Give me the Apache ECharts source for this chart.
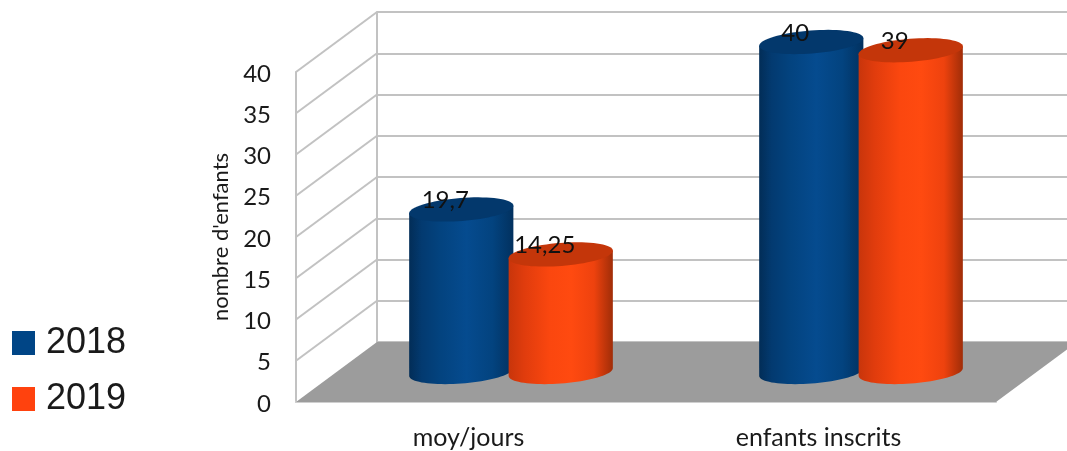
<!DOCTYPE html>
<html>
<head>
<meta charset="utf-8">
<style>html,body{margin:0;padding:0;background:#fff}#c{width:1067px;height:451px}</style>
<script src="https://cdn.jsdelivr.net/npm/echarts@6/dist/echarts.min.js"></script>
</head>
<body>
<div id="c"></div>
<script>
const categories = ["moy/jours", "enfants inscrits"];
const values2018 = [19.7, 40];
const values2019 = [14.25, 39];
const wallTicks = [5, 10, 15, 20, 25, 30, 35, 40];

const DEPTH_X = 81, DEPTH_Y = -60;
const FONT = "Lato";
const LINE = "#c2c2c2";

function ell(cx, cy, rx, ry, a, t) {
  return [
    cx + rx * Math.cos(t) * Math.cos(a) - ry * Math.sin(t) * Math.sin(a),
    cy + rx * Math.cos(t) * Math.sin(a) + ry * Math.sin(t) * Math.cos(a)
  ];
}
function cylinder(offsetRatio, stops, topColor) {
  return function (params, api) {
    const cat = api.value(0), v = api.value(1);
    const band = api.size([1, 0])[0];
    const top = api.coord([cat, v]), base = api.coord([cat, 0]);
    const cx = top[0] + band * offsetRatio;
    const rx = band * 0.1493, ry = 11.5, a = -4.4 * Math.PI / 180;
    const t0 = Math.atan2(-ry * Math.sin(a), rx * Math.cos(a));
    const pts = [];
    for (let i = 0; i <= 40; i++) pts.push(ell(cx, base[1], rx, ry, a, t0 + Math.PI * i / 40));
    pts.push(ell(cx, top[1], rx, ry, a, t0 + Math.PI));
    pts.push(ell(cx, top[1], rx, ry, a, t0));
    const cap = [];
    for (let i = 0; i < 72; i++) cap.push(ell(cx, top[1], rx, ry, a, i * Math.PI / 36));
    return {
      type: "group",
      children: [
        { type: "polygon", shape: { points: pts },
          style: { fill: { type: "linear", x: 0, y: 0, x2: 1, y2: 0, colorStops: stops } } },
        { type: "polygon", shape: { points: cap }, style: { fill: topColor } },
        { type: "text", style: {
            x: cx - 16, y: top[1] - 9,
            text: String(v).replace(".", ","),
            font: "24px " + FONT, fill: "#111", align: "center", verticalAlign: "middle" } }
      ]
    };
  };
}
const blueStops = [
  { offset: 0, color: "#022d57" }, { offset: 0.12, color: "#033a70" },
  { offset: 0.3, color: "#03437f" }, { offset: 0.55, color: "#054b8f" },
  { offset: 0.8, color: "#03437f" }, { offset: 1, color: "#02315f" }
];
const orangeStops = [
  { offset: 0, color: "#c8350b" }, { offset: 0.15, color: "#e03c0d" },
  { offset: 0.4, color: "#fb470f" }, { offset: 0.6, color: "#ff4a10" },
  { offset: 0.82, color: "#ee420e" }, { offset: 1, color: "#a02d08" }
];

const chart = echarts.init(document.getElementById("c"));
chart.setOption({
  animation: false,
  backgroundColor: "#fff",
  legend: {
    data: ["2018", "2019"], orient: "vertical", left: 12, top: 325, padding: 0,
    itemWidth: 23, itemHeight: 24, itemGap: 20, icon: "rect",
    selectedMode: false,
    textStyle: { fontFamily: "Liberation Sans", fontSize: 36, color: "#1a1a1a", lineHeight: 24, padding: [6, 0, 0, 6] }
  },
  grid: [
    { left: 296, width: 700, top: 72, height: 330 },
    { left: 336, width: 700, top: 42, height: 330 },
    { left: 377, right: 0, top: 12, height: 330 },
    { left: 296, width: 700, top: 74, height: 330 }
  ],
  xAxis: [
    { type: "category", gridIndex: 0, data: categories,
      axisLine: { lineStyle: { color: "#cfcfcf", width: 2 } }, axisTick: { show: false },
      axisLabel: { fontFamily: FONT, fontSize: 25, color: "#1a1a1a", margin: 23, padding: [0, 5, 0, 0] } },
    { type: "category", gridIndex: 1, data: categories, show: false },
    { type: "category", gridIndex: 2, data: categories, show: false },
    { type: "category", gridIndex: 3, data: categories, show: false }
  ],
  yAxis: [
    { type: "value", gridIndex: 0, min: 0, max: 40, interval: 5,
      name: "nombre d'enfants", nameLocation: "middle", nameGap: 64, nameRotate: 90,
      nameTextStyle: { fontFamily: FONT, fontSize: 22, color: "#1a1a1a" },
      axisLine: { show: true, lineStyle: { color: LINE, width: 2 } }, axisTick: { show: false },
      axisLabel: { show: false },
      splitLine: { show: false } },
    { type: "value", gridIndex: 1, min: 0, max: 40, interval: 5, show: false, splitLine: { show: false } },
    { type: "value", gridIndex: 2, min: 0, max: 40, interval: 5,
      axisLine: { show: true, lineStyle: { color: LINE, width: 2 } }, axisTick: { show: false },
      axisLabel: { show: false },
      splitLine: { show: true, lineStyle: { color: LINE, width: 2 } } },
    { type: "value", gridIndex: 3, min: 0, max: 40, interval: 5,
      axisLine: { show: false }, axisTick: { show: false },
      axisLabel: { fontFamily: FONT, fontSize: 24, color: "#1a1a1a", margin: 25 },
      splitLine: { show: false } }
  ],
  series: [
    { name: "walls", type: "custom", xAxisIndex: 0, yAxisIndex: 0, z: 1, silent: true,
      data: wallTicks.map(v => [0, v]),
      renderItem: function (params, api) {
        const y = api.coord([0, api.value(1)])[1], x = params.coordSys.x;
        return { type: "line", shape: { x1: x, y1: y, x2: x + DEPTH_X, y2: y + DEPTH_Y },
                 style: { stroke: LINE, lineWidth: 2, fill: null } };
      } },
    { name: "floor", type: "custom", xAxisIndex: 0, yAxisIndex: 0, z: 3, silent: true,
      data: [[0, 0]],
      renderItem: function (params, api) {
        const c = params.coordSys, b = api.coord([0, 0])[1];
        return { type: "polygon", shape: { points: [
            [c.x, b], [c.x + c.width, b],
            [c.x + c.width + DEPTH_X, b + DEPTH_Y], [c.x + DEPTH_X, b + DEPTH_Y]
          ] }, style: { fill: "#9c9c9c" } };
      } },
    { name: "2018", type: "custom", xAxisIndex: 1, yAxisIndex: 1, z: 4,
      itemStyle: { color: "#004586" }, encode: { x: 0, y: 1 },
      data: values2018.map((v, i) => [i, v]),
      renderItem: cylinder(-0.1421, blueStops, "#03386c") },
    { name: "2019", type: "custom", xAxisIndex: 1, yAxisIndex: 1, z: 5,
      itemStyle: { color: "#ff420e" }, encode: { x: 0, y: 1 },
      data: values2019.map((v, i) => [i, v]),
      renderItem: cylinder(0.1421, orangeStops, "#c4360a") }
  ]
});
</script>
</body>
</html>
